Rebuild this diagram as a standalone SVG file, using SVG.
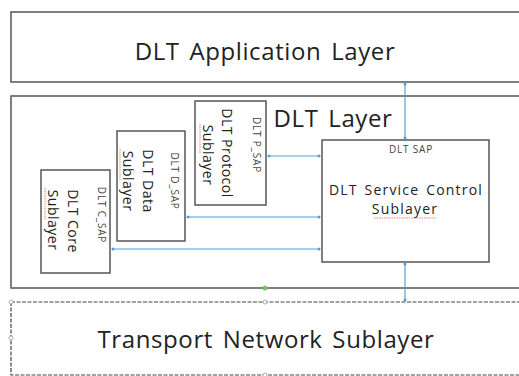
<svg xmlns="http://www.w3.org/2000/svg" width="519" height="376" viewBox="0 0 519 376">
<defs>
<style>
.box{fill:#fff;stroke:#555;stroke-width:1.5}
.big{font-family:"Open Sans","Noto Sans",sans-serif;fill:#222;font-size:24px;letter-spacing:0.6px;word-spacing:3px;text-anchor:middle}
.t{font-family:"Open Sans","Noto Sans",sans-serif;fill:#222;font-size:14px;letter-spacing:0.5px;text-anchor:middle}
.s{font-family:"Open Sans","Noto Sans",sans-serif;fill:#222;font-size:14px;letter-spacing:1.2px;word-spacing:2px;text-anchor:middle}
.sap{font-family:"Open Sans","Noto Sans",sans-serif;fill:#444;font-size:10px;letter-spacing:0.8px;text-anchor:middle}
.conn{stroke:#5b9bd5;stroke-width:1.2;fill:none;marker-start:url(#dot);marker-end:url(#dot)}
.sq{stroke:#e06060;stroke-width:0.8;fill:none;stroke-dasharray:1.5 1}
.h{fill:#fff;stroke:#999;stroke-width:0.8}
</style>
<marker id="dot" viewBox="0 0 6 6" refX="3" refY="3" markerWidth="3" markerHeight="3" markerUnits="strokeWidth">
<circle cx="3" cy="3" r="2.5" fill="#5b9bd5"/>
</marker>
</defs>
<rect width="519" height="376" fill="#fff"/>
<g id="app-layer">
<rect class="box" x="11" y="12" width="512" height="70"/>
<text class="big" x="265" y="60">DLT Application Layer</text>
</g>
<g id="dlt-layer">
<rect class="box" x="11" y="96" width="512" height="192"/>
<text class="big" x="333" y="127">DLT Layer</text>
</g>
<g id="transport-layer">
<rect x="11" y="302" width="512" height="73" fill="#fff" stroke="#444" stroke-width="1.2" stroke-dasharray="4 1.5"/>
<text class="big" x="266" y="348">Transport Network Sublayer</text>
<circle class="h" cx="11" cy="302" r="2"/>
<circle class="h" cx="265" cy="302" r="2"/>
<circle class="h" cx="11" cy="338" r="2"/>
<circle class="h" cx="265" cy="375" r="2"/>
<circle cx="265" cy="288" r="2.5" fill="#7cc060"/>
</g>
<g id="protocol-sublayer">
<rect class="box" x="195" y="101" width="71" height="104"/>
<text class="sap" transform="translate(253,145) rotate(90)">DLT P_SAP</text>
<text class="t" transform="translate(222,153) rotate(90)">DLT Protocol</text>
<text class="t" transform="translate(203,155) rotate(90)">Sublayer</text>
<path class="sq" d="M200,124 V154"/>
</g>
<g id="data-sublayer">
<rect class="box" x="117" y="131" width="68" height="110"/>
<text class="sap" transform="translate(171,181) rotate(90)">DLT D_SAP</text>
<text class="t" transform="translate(143,181) rotate(90)">DLT Data</text>
<text class="t" transform="translate(123,181) rotate(90)">Sublayer</text>
<path class="sq" d="M120,149 V180"/>
</g>
<g id="core-sublayer">
<rect class="box" x="41" y="170" width="69" height="103"/>
<text class="sap" transform="translate(98,215) rotate(90)">DLT C_SAP</text>
<text class="t" transform="translate(68,221) rotate(90)">DLT Core</text>
<text class="t" transform="translate(48,220) rotate(90)">Sublayer</text>
<path class="sq" d="M45,188 V220"/>
</g>
<g id="service-control-sublayer">
<rect class="box" x="322" y="140" width="167" height="122"/>
<text class="sap" x="411" y="153">DLT SAP</text>
<text class="s" x="406" y="195">DLT Service Control</text>
<text class="s" x="405" y="214">Sublayer</text>
<path class="sq" d="M374,218 H436"/>
</g>
<g id="connectors">
<path class="conn" d="M405,84 V138"/>
<path class="conn" d="M405,264 V300"/>
<path class="conn" d="M269,156 H319"/>
<path class="conn" d="M188,217 H319"/>
<path class="conn" d="M113,249 H319"/>
</g>
</svg>
